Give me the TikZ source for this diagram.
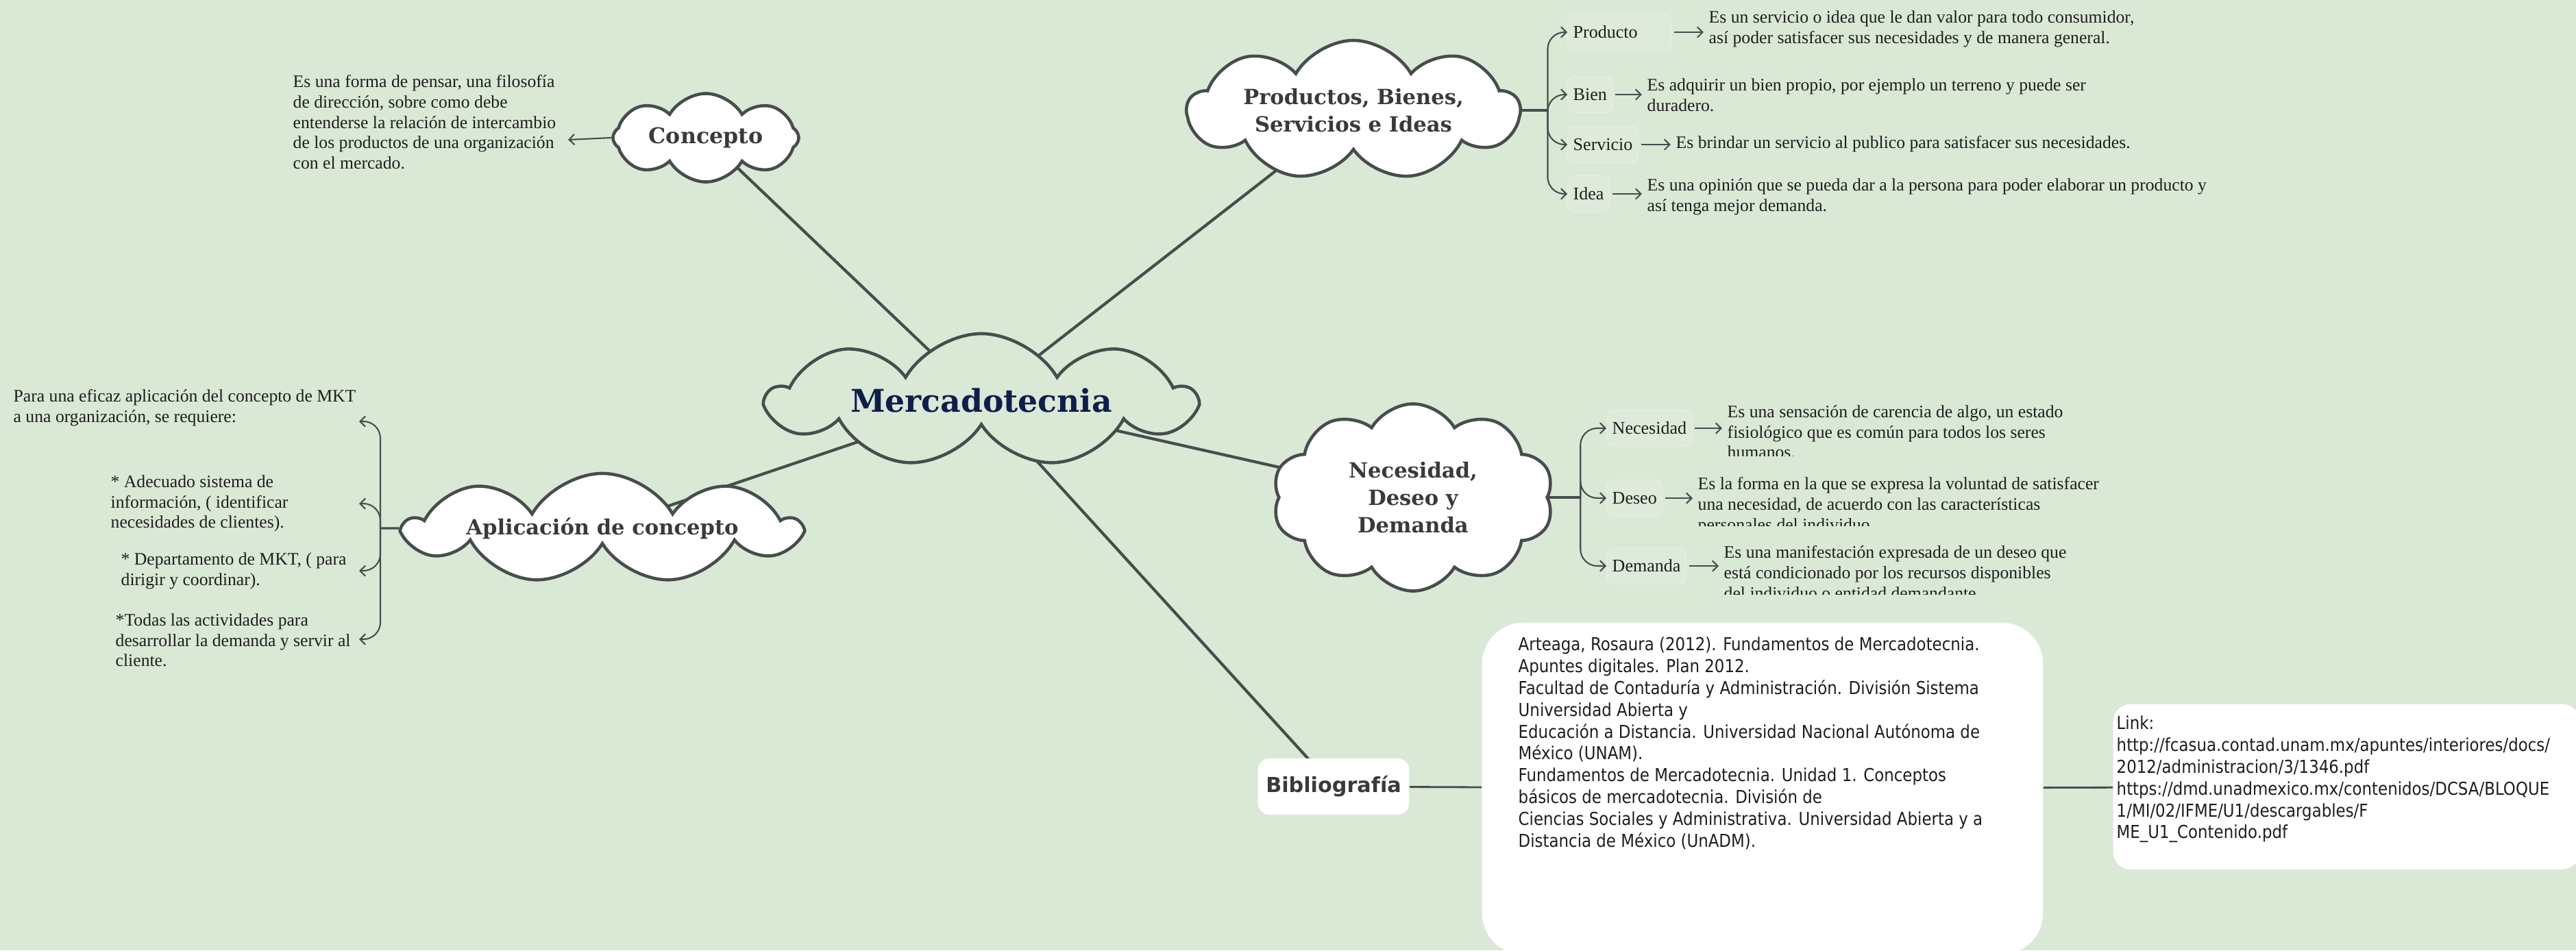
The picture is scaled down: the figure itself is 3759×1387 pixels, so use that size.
\documentclass[tikz,border=0pt]{standalone}
\usepackage{fontspec}
\setmainfont{Liberation Serif}
\newfontfamily\slabfont{DejaVu Serif}
\newfontfamily\refsfont[FakeStretch=0.88]{DejaVu Sans}
\newfontfamily\headsans{DejaVu Sans}
\usetikzlibrary{positioning,shapes.symbols,arrows.meta,backgrounds}

\definecolor{bg}{HTML}{DAE8D6}
\definecolor{linegray}{HTML}{474D4D}
\definecolor{labelgray}{HTML}{3A3A3A}
\definecolor{navy}{HTML}{0E1E4C}
\definecolor{textdark}{HTML}{1E1E1E}

\tikzset{
  topic/.style={cloud, cloud puffs=9, cloud puff arc=120, cloud ignores aspect,
    inner sep=1pt, draw=linegray, line width=1.3pt, fill=white, text=labelgray,
    align=center, font=\slabfont\bfseries\fontsize{8.7}{11.4}\selectfont},
  desc/.style={anchor=north west, inner sep=0pt, align=left, text=textdark,
    font=\fontsize{7.3}{8.45}\selectfont},
  item/.style={anchor=west, rounded corners=3pt, fill=white, fill opacity=.12,
    draw=white, draw opacity=.3, text opacity=1, text=textdark, inner xsep=0.08cm,
    minimum height=0.53cm, font=\fontsize{7.4}{8.5}\selectfont},
  mainlink/.style={draw=linegray, line width=1.2pt},
  stub/.style={draw=linegray, line width=0.9pt},
  pointer/.style={draw=linegray, line width=0.6pt, -{Straight Barb[length=2.2pt,width=4.4pt]}},
  hook/.style={pointer, rounded corners=7pt},
  whitebox/.style={fill=white, draw=none},
  refs/.style={anchor=north west, inner sep=0pt, align=left, text=textdark,
    font=\refsfont\fontsize{7.4}{9.07}\selectfont}
}

\begin{document}
\begin{tikzpicture}[x=0.01cm, y=-0.01cm]
  \useasboundingbox (0,0) rectangle (3759,1387);

  % central topic and the clouds round it
  \node[topic, fill=bg, minimum width=6.21cm, minimum height=1.94cm, text=navy,
        font=\slabfont\bfseries\fontsize{13}{15}\selectfont] (merc) at (1432,584) {Mercadotecnia};
  \node[topic, minimum width=2.71cm, minimum height=1.29cm, cloud puffs=8,
        font=\slabfont\bfseries\fontsize{9}{11}\selectfont] (concepto) at (1030,201) {Concepto};
  \node[topic, minimum width=4.84cm, minimum height=2.04cm] (prod) at (1975,161) {Productos, Bienes,\\Servicios e Ideas};
  \node[topic, minimum width=4.10cm, minimum height=2.73cm, cloud puffs=10] (nec) at (2062,726) {Necesidad,\\Deseo y\\Demanda};
  \node[topic, minimum width=5.72cm, minimum height=1.30cm, inner xsep=0.1cm, inner ysep=0.01cm] (aplic) at (879,771) {Aplicación de concepto};

  % concepto
  \node[desc] (cdesc) at (427,109) {Es una forma de pensar, una filosofía\\de dirección, sobre como debe\\entenderse la relación de intercambio\\de los productos de una organización\\con el mercado.};
  \coordinate (cdescin) at (829,204);
  \draw[pointer] (concepto.west) -- (cdescin);

  % productos, bienes, servicios e ideas
  \coordinate (prodhub) at ([xshift=0.37cm]prod.east);
  \draw[stub] (prod.east) -- (prodhub);
  \node[item, text width=1.35cm, align=left] (producto) at (2287,47) {Producto};
  \node[item] (bien) at (2287,138) {Bien};
  \node[item] (servicio) at (2287,211) {Servicio};
  \node[item] (idea) at (2287,283) {Idea};
  \foreach \n in {producto,bien,servicio,idea}
    \draw[hook] (prodhub) |- (\n.west);

  \node[desc] (pdesc) at (2493,15) {Es un servicio o idea que le dan valor para todo consumidor,\\así poder satisfacer sus necesidades y de manera general.};
  \node[desc] (bdesc) at (2403,114) {Es adquirir un bien propio, por ejemplo un terreno y puede ser\\duradero.};
  \node[desc] (sdesc) at (2445,198) {Es brindar un servicio al publico para satisfacer sus necesidades.};
  \node[desc] (idesc) at (2403,260) {Es una opinión que se pueda dar a la persona para poder elaborar un producto y\\así tenga mejor demanda.};
  \draw[pointer, shorten <=1pt, shorten >=2pt] (producto.east) -- (producto.east -| pdesc.west);
  \draw[pointer, shorten <=1pt, shorten >=2pt] (bien.east) -- (bien.east -| bdesc.west);
  \draw[pointer, shorten <=1pt, shorten >=2pt] (servicio.east) -- (servicio.east -| sdesc.west);
  \draw[pointer, shorten <=1pt, shorten >=2pt] (idea.east) -- (idea.east -| idesc.west);

  % necesidad, deseo y demanda
  \coordinate (nechub) at ([xshift=0.46cm]nec.east);
  \draw[stub] (nec.east) -- (nechub);
  \node[item] (necesidad) at (2344,625) {Necesidad};
  \node[item] (deseo) at (2344,727) {Deseo};
  \node[item] (demanda) at (2344,826) {Demanda};
  \foreach \n in {necesidad,deseo,demanda}
    \draw[hook] (nechub) |- (\n.west);

  \begin{scope}
    \clip (2450,560) rectangle (3300,665);
    \node[desc] (ndesc) at (2520,591) {Es una sensación de carencia de algo, un estado\\fisiológico que es común para todos los seres\\humanos.};
  \end{scope}
  \begin{scope}
    \clip (2450,690) rectangle (3300,767);
    \node[desc] (ddesc) at (2477,696) {Es la forma en la que se expresa la voluntad de satisfacer\\una necesidad, de acuerdo con las características\\personales del individuo.};
  \end{scope}
  \begin{scope}
    \clip (2450,785) rectangle (3300,867);
    \node[desc] (mdesc) at (2515,796) {Es una manifestación expresada de un deseo que\\está condicionado por los recursos disponibles\\del individuo o entidad demandante.};
  \end{scope}
  \draw[pointer, shorten <=1pt, shorten >=2pt] (necesidad.east) -- (necesidad.east -| ndesc.west);
  \draw[pointer, shorten <=1pt, shorten >=2pt] (deseo.east) -- (deseo.east -| ddesc.west);
  \draw[pointer, shorten <=1pt, shorten >=2pt] (demanda.east) -- (demanda.east -| mdesc.west);

  % aplicacion de concepto
  \coordinate (aplhub) at (555,771);
  \draw[stub] (aplic.west) -- (aplhub);
  \node[desc] (req) at (19,568) {Para una eficaz aplicación del concepto de MKT\\a una organización, se requiere:};
  \node[desc] (ade) at (161,693) {* Adecuado sistema de\\información, ( identificar\\necesidades de clientes).};
  \node[desc] (dep) at (176,806) {* Departamento de MKT, ( para\\dirigir y coordinar).};
  \node[desc] (tod) at (168,895) {*Todas las actividades para\\desarrollar la demanda y servir al\\cliente.};
  \coordinate (reqin) at (524,615);
  \coordinate (adein) at (524,735);
  \coordinate (depin) at (524,833);
  \coordinate (todin) at (524,933);
  \foreach \c in {reqin,adein,depin,todin}
    \draw[hook] (aplhub) |- (\c);

  % bibliografia
  \node[whitebox, rounded corners=0.17cm, minimum width=2.18cm, minimum height=0.82cm,
        text=labelgray, font=\headsans\bfseries\fontsize{8.6}{10}\selectfont] (biblio) at (1946,1148) {Bibliografía};
  \node[whitebox, anchor=north west, rounded corners=0.6cm, minimum width=8.18cm,
        minimum height=4.84cm] (bibbox) at (2162,908) {};
  \node[refs] (bibtext) at (2215,929) {Arteaga, Rosaura (2012). Fundamentos de Mercadotecnia.\\Apuntes digitales. Plan 2012.\\Facultad de Contaduría y Administración. División Sistema\\Universidad Abierta y\\Educación a Distancia. Universidad Nacional Autónoma de\\México (UNAM).\\Fundamentos de Mercadotecnia. Unidad 1. Conceptos\\básicos de mercadotecnia. División de\\Ciencias Sociales y Administrativa. Universidad Abierta y a\\Distancia de México (UnADM).};
  \node[whitebox, anchor=north west, rounded corners=0.25cm, minimum width=6.8cm,
        minimum height=2.41cm] (linkbox) at (3083,1027) {};
  \node[refs] (linktext) at (3088,1044) {Link:\\http://fcasua.contad.unam.mx/apuntes/interiores/docs/\\2012/administracion/3/1346.pdf\\https://dmd.unadmexico.mx/contenidos/DCSA/BLOQUE\\1/MI/02/IFME/U1/descargables/F\\ME\_U1\_Contenido.pdf};

  \begin{pgfonlayer}{background}
    \fill[bg] (0,0) rectangle (3759,1387);
    \draw[mainlink] (merc.center) -- (concepto.center);
    \draw[mainlink] (merc.center) -- (prod.center);
    \draw[mainlink] (merc.center) -- (nec.center);
    \draw[mainlink] (merc.center) -- (aplic.center);
    \draw[mainlink] (merc.center) -- (biblio.center);
    \draw[mainlink, line width=0.8pt] (biblio) -- (bibbox);
    \draw[mainlink, line width=0.8pt] (bibbox) -- (linkbox);
  \end{pgfonlayer}
\end{tikzpicture}
\end{document}
